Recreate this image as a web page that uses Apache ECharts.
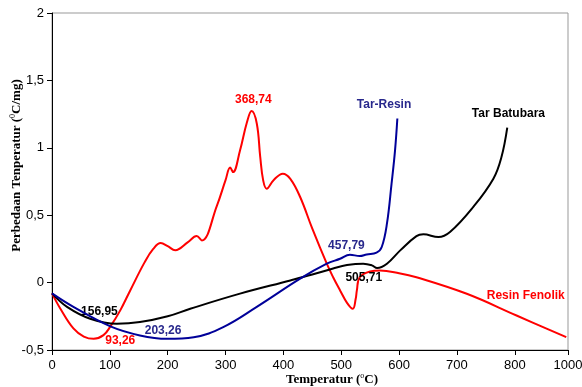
<!DOCTYPE html>
<html><head><meta charset="utf-8">
<script src="https://cdn.jsdelivr.net/npm/echarts@6/dist/echarts.min.js"></script>
<style>html,body{margin:0;padding:0;background:#fff}#c{width:582px;height:387px}</style>
</head><body><div id="c"></div>
<script>
// ---- data (temperature °C, DTA difference °C/mg) ----
const resinT = [0,14,37,55,72,89,101,118,135,160,175,188,200,213,235,250,259,285,300,308,313,325,337,345,354,360,365,371,383,399,412,429,450,475,486,498,510,520,525,527,532,550,567,600,630,717,803,889];
const resinV = [-0.08,-0.19,-0.34,-0.40,-0.417,-0.39,-0.325,-0.206,-0.06,0.15,0.25,0.293,0.27,0.24,0.30,0.345,0.313,0.57,0.76,0.853,0.82,0.98,1.19,1.273,1.18,0.93,0.76,0.697,0.76,0.808,0.77,0.635,0.40,0.14,0.04,-0.058,-0.15,-0.194,-0.12,-0.058,0.04,0.083,0.09,0.07,0.04,-0.083,-0.244,-0.405];

const tarT = [0,26,66,112,152,200,239,325,412,450,486,510,538,553,562,579,602,630,642,668,688,728,763,777,787];
const tarV = [-0.08,-0.18,-0.268,-0.305,-0.293,-0.25,-0.194,-0.082,0.016,0.06,0.105,0.13,0.14,0.128,0.108,0.14,0.239,0.345,0.358,0.338,0.375,0.56,0.771,0.932,1.15];

const tarResinT = [0,37,101,152,199,245,296,354,429,475,498,515,532,544,561,570,579,587,593,597];
const tarResinV = [-0.08,-0.18,-0.325,-0.392,-0.417,-0.405,-0.33,-0.18,0.029,0.14,0.177,0.207,0.197,0.209,0.222,0.264,0.437,0.734,0.981,1.217];

const xTickLabels = ['0','100','200','300','400','500','600','700','800','1000'];
const yTickLabels = ['-0,5','0','0,5','1','1,5','2'];

const resinNotes = ['368,74','93,26','Resin Fenolik'];
const tarNotes = ['156,95','505,71','Tar Batubara'];
const tarResinNotes = ['203,26','457,79','Tar-Resin'];

// ---- chart ----
const X_MAX = 892;
const pairs = (t, v) => t.map((x, i) => [x, v[i]]);
const notePos = {
  '368,74': [348, 1.358], '93,26': [118, -0.434], 'Resin Fenolik': [819, -0.1],
  '156,95': [82, -0.214], '505,71': [539, 0.036], 'Tar Batubara': [789, 1.254],
  '203,26': [192, -0.355], '457,79': [509, 0.271], 'Tar-Resin': [574, 1.323]
};
function notes(list, color) {
  return {
    symbol: 'rect', symbolSize: 1, silent: true,
    itemStyle: { color: 'rgba(0,0,0,0)' },
    label: { show: true, position: 'inside', color: color, fontFamily: 'Liberation Sans, Arial, sans-serif', fontWeight: 'bold', fontSize: 12, formatter: p => p.name },
    data: list.map(n => ({ name: n, coord: notePos[n] }))
  };
}
const sansFont = 'Liberation Sans, Arial, sans-serif';
const serifFont = 'Liberation Serif, Times New Roman, serif';

const chart = echarts.init(document.getElementById('c'), null, { renderer: 'canvas' });
chart.setOption({
  animation: false,
  backgroundColor: '#fff',
  grid: { left: 52, right: 14, top: 13, bottom: 37, containLabel: false, outerBoundsMode: 'none',
    show: true, borderColor: '#999', borderWidth: 1, backgroundColor: 'transparent' },
  xAxis: {
    type: 'value', min: 0, max: X_MAX, interval: 100,
    splitLine: { show: false },
    axisLine: { show: true, onZero: false, lineStyle: { color: '#000', width: 1 } },
    axisTick: { show: true, inside: false, length: 5, lineStyle: { color: '#000' } },
    axisLabel: { margin: 9, color: '#000', fontFamily: sansFont, fontSize: 13,
      showMaxLabel: true, hideOverlap: false,
      formatter: v => v >= X_MAX ? xTickLabels[xTickLabels.length - 1] : xTickLabels[Math.round(v / 100)] },
    name: '{n|Temperatur (}{s|o}{n|C)}', nameLocation: 'middle', nameGap: 22, nameMoveOverlap: false,
    nameTextStyle: { padding: [0, 0, 0, 44], rich: {
      n: { fontFamily: serifFont, fontWeight: 'bold', fontSize: 13, color: '#000' },
      s: { fontFamily: serifFont, fontSize: 8, color: '#000', padding: [0, 0, 7, 0] } } }
  },
  yAxis: {
    type: 'value', min: -0.5, max: 2, interval: 0.5,
    splitLine: { show: false },
    axisLine: { show: true, onZero: false, lineStyle: { color: '#000', width: 1 } },
    axisTick: { show: true, inside: false, length: 5, lineStyle: { color: '#000' } },
    axisLabel: { margin: 8, color: '#000', fontFamily: sansFont, fontSize: 13,
      formatter: v => yTickLabels[Math.round((v + 0.5) / 0.5)] },
    name: '{n|Perbedaan Tenperatur (}{s|0}{n|C/mg)}', nameLocation: 'middle', nameGap: 28, nameMoveOverlap: false,
    nameTextStyle: { padding: [0, 0, 0, 32], rich: {
      n: { fontFamily: serifFont, fontWeight: 'bold', fontSize: 13, color: '#000' },
      s: { fontFamily: serifFont, fontSize: 8, color: '#000', padding: [0, 0, 7, 0] } } }
  },
  series: [
    { name: 'Resin Fenolik', type: 'line', data: pairs(resinT, resinV), smooth: 0.4, showSymbol: false,
      lineStyle: { color: '#ff0000', width: 2 }, itemStyle: { color: '#ff0000' }, markPoint: notes(resinNotes, '#ff0000'), z: 3 },
    { name: 'Tar Batubara', type: 'line', data: pairs(tarT, tarV), smooth: 0.4, showSymbol: false,
      lineStyle: { color: '#000000', width: 2 }, itemStyle: { color: '#000' }, markPoint: notes(tarNotes, '#000000'), z: 4 },
    { name: 'Tar-Resin', type: 'line', data: pairs(tarResinT, tarResinV), smooth: 0.4, showSymbol: false,
      lineStyle: { color: '#000099', width: 2 }, itemStyle: { color: '#000099' }, markPoint: notes(tarResinNotes, '#28288c'), z: 5 }
  ]
});
</script></body></html>
